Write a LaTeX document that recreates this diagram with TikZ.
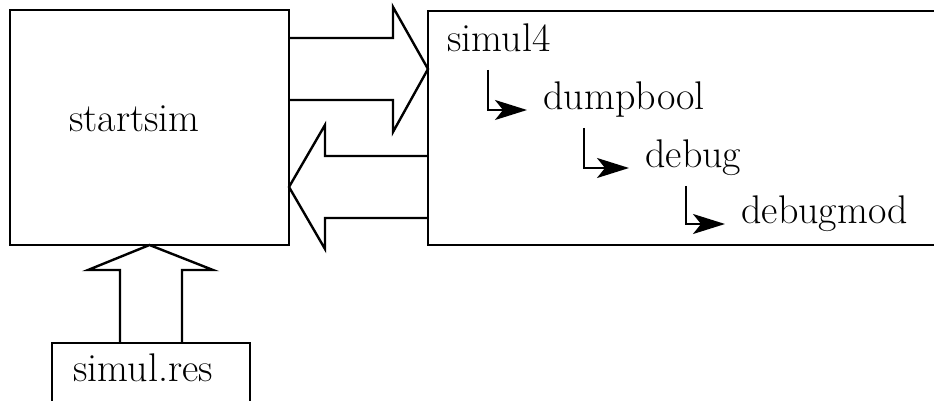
\documentclass[tikz,border=0pt]{standalone}
\usetikzlibrary{arrows.meta}

\tikzset{
  box/.style={draw, line width=1.2pt, inner sep=0pt, outer sep=0pt},
  fat/.style={draw, line width=1.2pt, line join=miter},
  lbl/.style={inner sep=0pt, anchor=base west},
  callarrow/.style={line width=1pt, -{Stealth[length=16pt,width=10pt,inset=4pt]}}
}

\begin{document}
\begin{tikzpicture}[x=0.5pt,y=-0.5pt,font=\fontsize{20}{24}\selectfont]
\useasboundingbox (0,0) rectangle (934,401);
\clip (0,0) rectangle (934,401);

% boxes (the right one and the file box run off the edge)
\node[box, minimum width=139.5pt, minimum height=117.5pt] (start) at (149.5,127.5) {};
\node[box, minimum width=286pt, minimum height=117pt] (sim) at (714,128) {};
\node[box, minimum width=99pt, minimum height=53.5pt] (res) at (151,396.5) {};

% labels
\node[lbl] (startlbl) at (69,132) {startsim};
\node[lbl] (reslbl) at (73,382) {simul.res};
\node[lbl] (s4) at (447,52) {simul4};
\node[lbl] (dump) at (543,110) {dumpbool};
\node[lbl] (dbg) at (645,168) {debug};
\node[lbl] (dmod) at (741,224) {debugmod};

% call chain
\foreach \a/\b in {s4/dump, dump/dbg, dbg/dmod}
  \draw[callarrow] ([shift={(41,18)}]\a.base west) |- ([shift={(-16,0)}]\b.base west);

% block arrows between the boxes
\draw[fat] (start.east |- 0,38) -- (393,38) -- (393,7) -- (sim.west |- 0,69)
  -- (393,132) -- (393,100) -- (start.east |- 0,100);
\draw[fat] (sim.west |- 0,156) -- (325,156) -- (325,125) -- (start.east |- 0,187)
  -- (325,249) -- (325,218) -- (sim.west |- 0,218);
\draw[fat] (120,0 |- res.north) -- (120,270) -- (88,270) -- (start.south)
  -- (213,270) -- (182,270) -- (182,0 |- res.north);
\end{tikzpicture}
\end{document}
